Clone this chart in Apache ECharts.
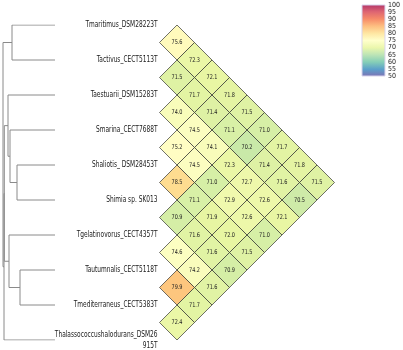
<!DOCTYPE html>
<html>
<head>
<meta charset="utf-8">
<script src="https://cdn.jsdelivr.net/npm/echarts@6/dist/echarts.min.js"></script>
<style>
  html, body { margin: 0; padding: 0; background: #fff; }
  #chart { width: 403px; height: 350px; }
</style>
</head>
<body>
<div id="chart"></div>
<script>
const taxa = [
  'Tmaritimus_DSM28223T',
  'Tactivus_CECT5113T',
  'Taestuarii_DSM15283T',
  'Smarina_CECT7688T',
  'Shaliotis_ DSM28453T',
  'Shimia sp. SK013',
  'Tgelatinovorus_CECT4357T',
  'Tautumnalis_CECT5118T',
  'Tmediterraneus_CECT5383T',
  'Thalassococcushalodurans_DSM26\n915T'
];

// ani[k] = values of taxon k+1 against taxa 0..k
const ani = [
  [75.6],
  [72.3, 71.5],
  [72.1, 71.7, 74.0],
  [71.8, 71.4, 74.5, 75.2],
  [71.5, 71.1, 74.1, 74.5, 78.5],
  [71.0, 70.2, 72.3, 71.0, 71.1, 70.9],
  [71.7, 71.4, 72.7, 72.9, 71.9, 71.6, 74.6],
  [71.8, 71.6, 72.6, 72.6, 72.0, 71.6, 74.2, 79.9],
  [71.5, 70.5, 72.1, 71.0, 71.5, 70.9, 71.6, 71.7, 72.4]
];

// tree merges: [child a, child b, height]; leaves are 0..9, new nodes 10..
const merges = [
  [0, 1, 0.43],
  [4, 5, 0.38],
  [3, 11, 0.45],
  [2, 12, 0.47],
  [7, 8, 0.35],
  [6, 14, 0.46],
  [13, 15, 0.507],
  [16, 9, 0.51],
  [10, 17, 0.52]
];

const palette = ['#5e4fa2', '#3288bd', '#66c2a5', '#abdda4', '#e6f598', '#ffffbf',
                 '#fee08b', '#fdae61', '#f46d43', '#d53e4f', '#9e0142'];
const scaleMin = 50, scaleMax = 100, scaleStep = 5;
// cells use a tighter stretch of the same palette
const cellMin = 60, cellMax = 90;

const FONT = "'DejaVu Sans Condensed', 'Liberation Sans Narrow', sans-serif";

// rotated matrix: u = j - i, v = i + j
const cells = [];
ani.forEach((row, k) => {
  const j = k + 1;
  row.forEach((val, i) => cells.push([j - i, i + j, val]));
});

// dendrogram brackets
const nodeY = taxa.map((_, i) => 2 * i);
const nodeH = taxa.map(() => 0);
const brackets = merges.map(([a, b, h]) => {
  nodeY.push((nodeY[a] + nodeY[b]) / 2);
  nodeH.push(h);
  return { coords: [[nodeH[a], nodeY[a]], [h, nodeY[a]], [h, nodeY[b]], [nodeH[b], nodeY[b]]] };
});

const chart = echarts.init(document.getElementById('chart'), null, { renderer: 'canvas' });

const option = {
  backgroundColor: '#fff',
  animation: false,
  grid: [
    { left: 159.5, top: 25, width: 175, height: 315 },
    { left: 3, top: 25, width: 52, height: 315 },
    { left: 362, top: 5, width: 25, height: 71 }
  ],
  xAxis: [
    { gridIndex: 0, type: 'value', min: 0, max: 10, show: false },
    { gridIndex: 1, type: 'value', min: 0, max: 0.52, inverse: true, show: false },
    { gridIndex: 2, type: 'value', min: 0, max: 1, show: false }
  ],
  yAxis: [
    { gridIndex: 0, type: 'value', min: 0, max: 18, inverse: true, show: false },
    { gridIndex: 1, type: 'value', min: 0, max: 18, inverse: true, show: false },
    {
      gridIndex: 2, type: 'value', min: scaleMin, max: scaleMax, interval: scaleStep,
      position: 'right',
      axisLine: { show: false }, axisTick: { show: false }, splitLine: { show: false },
      axisLabel: {
        margin: 3, fontSize: 7, lineHeight: 6, color: '#222', fontFamily: FONT,
        hideOverlap: false
      }
    }
  ],
  visualMap: {
    type: 'continuous', show: false, min: cellMin, max: cellMax,
    dimension: 2, seriesIndex: 0, inRange: { color: palette }
  },
  series: [
    {
      type: 'custom',
      xAxisIndex: 0, yAxisIndex: 0,
      data: cells,
      clip: false,
      renderItem: (params, api) => {
        const u = api.value(0), v = api.value(1);
        const pts = [
          api.coord([u - 1, v]), api.coord([u, v - 1]),
          api.coord([u + 1, v]), api.coord([u, v + 1])
        ];
        const c = api.coord([u, v]);
        return {
          type: 'group',
          children: [
            {
              type: 'polygon',
              shape: { points: pts },
              style: {
                fill: echarts.color.modifyAlpha(api.visual('color'), 0.9),
                stroke: '#333', lineWidth: 0.7
              }
            },
            {
              type: 'text',
              x: c[0], y: c[1], scaleX: 0.85,
              style: {
                text: api.value(2).toFixed(1), x: 0, y: 0,
                align: 'center', verticalAlign: 'middle',
                fontSize: 6.5, fill: '#222', fontFamily: FONT
              }
            }
          ]
        };
      }
    },
    {
      type: 'lines',
      coordinateSystem: 'cartesian2d',
      xAxisIndex: 1, yAxisIndex: 1,
      polyline: true,
      silent: true,
      lineStyle: { color: '#8a8a8a', width: 1, opacity: 1 },
      data: brackets
    },
    {
      type: 'custom',
      xAxisIndex: 2, yAxisIndex: 2,
      data: [[0, scaleMin, scaleMax]],
      renderItem: (params, api) => {
        const p1 = api.coord([0, api.value(2)]);
        const p2 = api.coord([1, api.value(1)]);
        const stops = palette.slice().reverse().map((col, k) => ({
          offset: k / (palette.length - 1),
          color: echarts.color.modifyAlpha(col, 0.8)
        }));
        return {
          type: 'rect',
          shape: { x: p1[0], y: p1[1], width: p2[0] - p1[0], height: p2[1] - p1[1] },
          style: {
            fill: new echarts.graphic.LinearGradient(0, 0, 0, 1, stops),
            stroke: '#d8d4ec', lineWidth: 1
          }
        };
      }
    },
    {
      // taxon names, right-aligned against the left tip of the triangle
      type: 'custom',
      xAxisIndex: 0, yAxisIndex: 0,
      data: taxa.map((name, i) => [0, 2 * i]),
      clip: false,
      silent: true,
      renderItem: (params, api) => {
        const p = api.coord([api.value(0), api.value(1)]);
        return {
          type: 'text',
          x: p[0] - 2, y: p[1], scaleX: 0.77,
          style: {
            text: taxa[params.dataIndex], x: 0, y: 0,
            align: 'right', verticalAlign: 'middle',
            fontSize: 8.5, lineHeight: 11, fill: '#1a1a1a', fontFamily: FONT
          }
        };
      }
    }
  ]
};

chart.setOption(option);
</script>
</body>
</html>
